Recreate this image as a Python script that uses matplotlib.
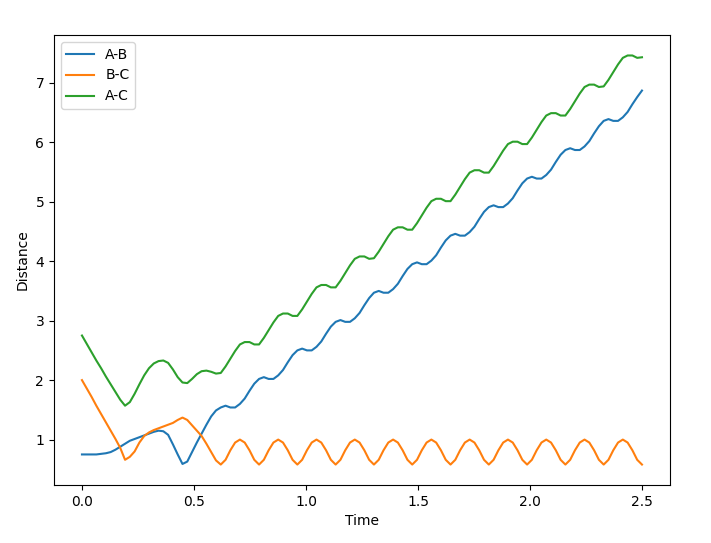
import numpy as np
import matplotlib
matplotlib.use("Agg")
import matplotlib.pyplot as plt

# sample times (uniform step of the simulation output)
time = np.linspace(0, 2.5, 118)

# distances, one row ~ one vibration period
dist_ab = [0.75, 0.75, 0.75, 0.75, 0.76, 0.77, 0.79, 0.83, 0.88, 0.93,
           0.98, 1.01, 1.04, 1.07, 1.10, 1.13, 1.15, 1.14, 1.08, 0.92,
           0.75, 0.59, 0.63, 0.79, 0.95, 1.10, 1.25, 1.39, 1.49,
           1.54, 1.57, 1.54, 1.54, 1.60, 1.69, 1.82, 1.94,
           2.02, 2.05, 2.02, 2.02, 2.08, 2.17, 2.30, 2.42,
           2.50, 2.53, 2.50, 2.50, 2.56, 2.65, 2.78, 2.90,
           2.98, 3.01, 2.98, 2.98, 3.04, 3.13, 3.26, 3.38,
           3.47, 3.50, 3.47, 3.47, 3.53, 3.62, 3.75, 3.87,
           3.95, 3.98, 3.95, 3.95, 4.01, 4.10, 4.23, 4.35,
           4.43, 4.46, 4.43, 4.43, 4.49, 4.58, 4.71, 4.83,
           4.91, 4.94, 4.91, 4.91, 4.97, 5.06, 5.19, 5.31,
           5.39, 5.42, 5.39, 5.39, 5.45, 5.54, 5.67, 5.79,
           5.87, 5.90, 5.87, 5.87, 5.93, 6.02, 6.15, 6.27,
           6.36, 6.39, 6.36, 6.36, 6.42, 6.51, 6.64, 6.76,
           6.87]

dist_bc = [2.00, 1.86, 1.72, 1.57, 1.43, 1.29, 1.15, 1.01, 0.86, 0.66,
           0.71, 0.80, 0.95, 1.06, 1.12, 1.16, 1.19, 1.22, 1.25, 1.28,
           1.33, 1.37, 1.33, 1.24, 1.15, 1.06, 0.93, 0.79, 0.65,
           0.58, 0.66, 0.82, 0.95, 1.00, 0.95, 0.82, 0.66,
           0.58, 0.66, 0.82, 0.95, 1.00, 0.95, 0.82, 0.66,
           0.58, 0.66, 0.82, 0.95, 1.00, 0.95, 0.82, 0.66,
           0.58, 0.66, 0.82, 0.95, 1.00, 0.95, 0.82, 0.66,
           0.58, 0.66, 0.82, 0.95, 1.00, 0.95, 0.82, 0.66,
           0.58, 0.66, 0.82, 0.95, 1.00, 0.95, 0.82, 0.66,
           0.58, 0.66, 0.82, 0.95, 1.00, 0.95, 0.82, 0.66,
           0.58, 0.66, 0.82, 0.95, 1.00, 0.95, 0.82, 0.66,
           0.58, 0.66, 0.82, 0.95, 1.00, 0.95, 0.82, 0.66,
           0.58, 0.66, 0.82, 0.95, 1.00, 0.95, 0.82, 0.66,
           0.58, 0.66, 0.82, 0.95, 1.00, 0.95, 0.82, 0.66,
           0.58]

dist_ac = [2.75, 2.61, 2.47, 2.33, 2.20, 2.06, 1.93, 1.80, 1.67, 1.57,
           1.63, 1.77, 1.93, 2.08, 2.20, 2.28, 2.32, 2.33, 2.29, 2.18,
           2.05, 1.96, 1.95, 2.02, 2.10, 2.15, 2.16, 2.14, 2.11,
           2.12, 2.23, 2.36, 2.49, 2.60, 2.64, 2.64, 2.60,
           2.60, 2.71, 2.84, 2.97, 3.08, 3.12, 3.12, 3.08,
           3.08, 3.19, 3.32, 3.45, 3.56, 3.60, 3.60, 3.56,
           3.56, 3.67, 3.80, 3.93, 4.04, 4.08, 4.08, 4.04,
           4.05, 4.16, 4.29, 4.42, 4.53, 4.57, 4.57, 4.53,
           4.53, 4.64, 4.77, 4.90, 5.01, 5.05, 5.05, 5.01,
           5.01, 5.12, 5.25, 5.38, 5.49, 5.53, 5.53, 5.49,
           5.49, 5.60, 5.73, 5.86, 5.97, 6.01, 6.01, 5.97,
           5.97, 6.08, 6.21, 6.34, 6.45, 6.49, 6.49, 6.45,
           6.45, 6.56, 6.69, 6.82, 6.93, 6.97, 6.97, 6.93,
           6.94, 7.05, 7.18, 7.31, 7.42, 7.46, 7.46, 7.42,
           7.43]

labels = ["A-B", "B-C", "A-C"]

fig = plt.figure(figsize=(7.11, 5.43), dpi=100)
ax = fig.add_axes([0.0759, 0.1068, 0.8664, 0.8287])

for d, lab in zip([dist_ab, dist_bc, dist_ac], labels):
    ax.plot(time, d, label=lab)

ax.set_xlabel("Time")
ax.set_ylabel("Distance")
ax.legend(loc="upper left")

fig.savefig("out.png", dpi=100)
